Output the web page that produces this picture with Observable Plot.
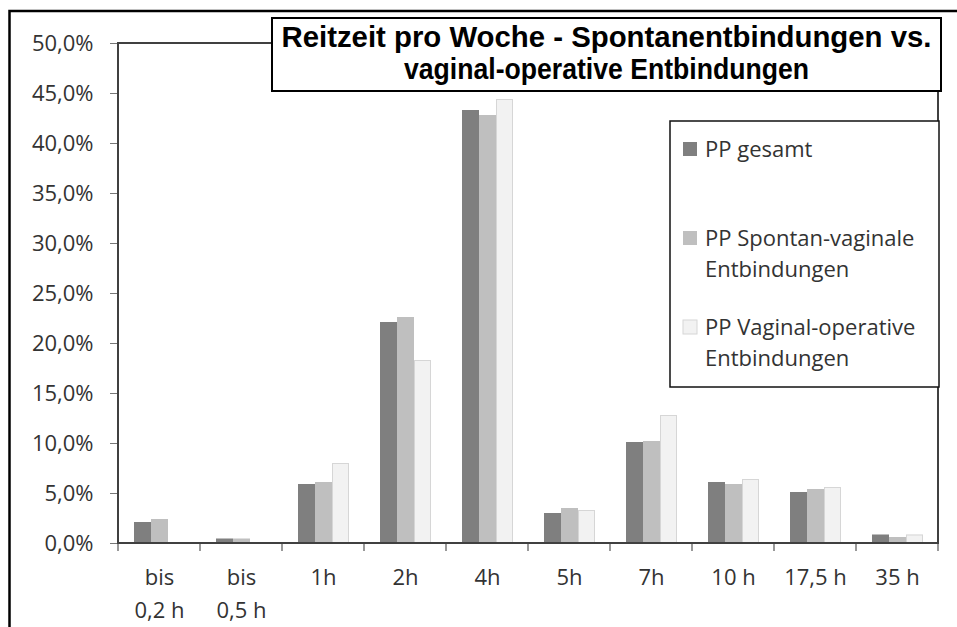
<!DOCTYPE html>
<html>
<head>
<meta charset="utf-8">
<script src="https://cdn.jsdelivr.net/npm/d3@7"></script>
<script src="https://cdn.jsdelivr.net/npm/@observablehq/plot@0.6"></script>
<style>
html, body { margin: 0; padding: 0; background: #fff; overflow: hidden; }
</style>
</head>
<body>
<div id="chart"></div>
<script>
const categories = ["bis\n0,2 h", "bis\n0,5 h", "1h", "2h", "4h", "5h", "7h", "10 h", "17,5 h", "35 h"];
const seriesNames = ["PP gesamt", "PP Spontan-vaginale Entbindungen", "PP Vaginal-operative Entbindungen"];
const legendLines = [["PP gesamt"], ["PP Spontan-vaginale", "Entbindungen"], ["PP Vaginal-operative", "Entbindungen"]];
const gesamt =    [2.1, 0.45, 5.9, 22.1, 43.3, 3.0, 10.1, 6.1, 5.1, 0.85];
const spontan =   [2.4, 0.45, 6.1, 22.6, 42.8, 3.5, 10.2, 5.9, 5.4, 0.6];
const operativ =  [0.0, 0.0, 8.0, 18.3, 44.4, 3.3, 12.8, 6.4, 5.6, 0.85];
const yTicks = [0, 5, 10, 15, 20, 25, 30, 35, 40, 45, 50];
const colors = ["#7f7f7f", "#bfbfbf", "#f2f2f2"];
const titleLines = ["Reitzeit pro Woche - Spontanentbindungen vs.", "vaginal-operative Entbindungen"];

const values = [gesamt, spontan, operativ];
const rows = [];
categories.forEach((c, i) => {
  seriesNames.forEach((s, j) => rows.push({cat: c, series: s, value: values[j][i]}));
});

const fmt = d => d.toFixed(1).replace(".", ",") + "%";
const FS = 22;

const chart = Plot.plot({
  width: 957,
  height: 627,
  marginLeft: 117,
  marginRight: 18,
  marginTop: 43,
  marginBottom: 84,
  style: {fontFamily: "'Open Sans', sans-serif", fontSize: FS + "px", color: "#333", background: "#fff", overflow: "hidden"},
  fx: {domain: categories, padding: 0, label: null},
  x: {domain: seriesNames, paddingInner: 0, paddingOuter: 0.79, axis: null},
  y: {domain: [0, 50], axis: null},
  color: {domain: seriesNames, range: colors},
  marks: [
    Plot.barY(rows, {fx: "cat", x: "series", y: "value", fill: "series", inset: 0}),
    Plot.barY(rows.filter(d => d.series === seriesNames[2] && d.value > 0), {fx: "cat", x: "series", y: "value", fill: "none", stroke: "#d6d6d6", strokeWidth: 1, inset: 0.5}),
    Plot.axisY({ticks: yTicks, tickSize: 8, tickPadding: 17, tickFormat: fmt, label: null, fontSize: FS, stroke: "#777", fill: "#333"}),
    Plot.axisFx({anchor: "bottom", tickSize: 0, tickPadding: 18, label: null, fontSize: FS, lineHeight: 1.5, fill: "#333"})
  ]
});
document.getElementById("chart").appendChild(chart);

const svg = d3.select(chart);
const fx = chart.scale("fx");
const ys = chart.scale("y");
const y0 = ys.apply(0), y50 = ys.apply(50);
const xL = fx.apply(categories[0]);
const xR = fx.apply(categories[categories.length - 1]) + fx.bandwidth;

// category separator ticks
const bounds = categories.map(c => fx.apply(c)).concat([xR]);
svg.append("g").selectAll("line").data(bounds).join("line")
  .attr("x1", d => d).attr("x2", d => d)
  .attr("y1", y0).attr("y2", y0 + 8)
  .attr("stroke", "#777").attr("stroke-width", 1.5);

// plot-area border
svg.append("rect")
  .attr("x", xL).attr("y", y50).attr("width", xR - xL).attr("height", y0 - y50)
  .attr("fill", "none").attr("stroke", "#404040").attr("stroke-width", 2);

// title box
const tg = svg.append("g");
tg.append("rect").attr("x", 272).attr("y", 18).attr("width", 669).attr("height", 73)
  .attr("fill", "#fff").attr("stroke", "#000").attr("stroke-width", 2);
const tWidths = [650, 405];
titleLines.forEach((t, i) => {
  tg.append("text").text(t)
    .attr("x", 606.5).attr("y", 47 + i * 32)
    .attr("text-anchor", "middle")
    .attr("font-family", "'Liberation Sans Narrow', 'Liberation Sans', Arial, sans-serif")
    .attr("font-weight", "bold").attr("font-size", 30).attr("fill", "#000")
    .attr("textLength", tWidths[i]).attr("lengthAdjust", "spacingAndGlyphs");
});

// legend
const lg = svg.append("g").attr("text-anchor", "start");
lg.append("rect").attr("x", 670).attr("y", 121).attr("width", 269).attr("height", 266)
  .attr("fill", "#fff").attr("stroke", "#111").attr("stroke-width", 1.5);
const itemTops = [142, 231, 320];
seriesNames.forEach((s, i) => {
  lg.append("rect").attr("x", 683).attr("y", itemTops[i]).attr("width", 14).attr("height", 14)
    .attr("fill", colors[i]).attr("stroke", i === 2 ? "#d6d6d6" : "none");
  legendLines[i].forEach((line, k) => {
    lg.append("text").text(line)
      .attr("x", 705).attr("y", itemTops[i] + 15 + k * 31)
      .attr("text-anchor", "start")
      .attr("font-family", "'Open Sans', sans-serif").attr("font-size", FS).attr("fill", "#333");
  });
});

// outer border
svg.append("rect").attr("x", 9.5).attr("y", 11).attr("width", 1000).attr("height", 700)
  .attr("fill", "none").attr("stroke", "#000").attr("stroke-width", 2.5);
</script>
</body>
</html>
